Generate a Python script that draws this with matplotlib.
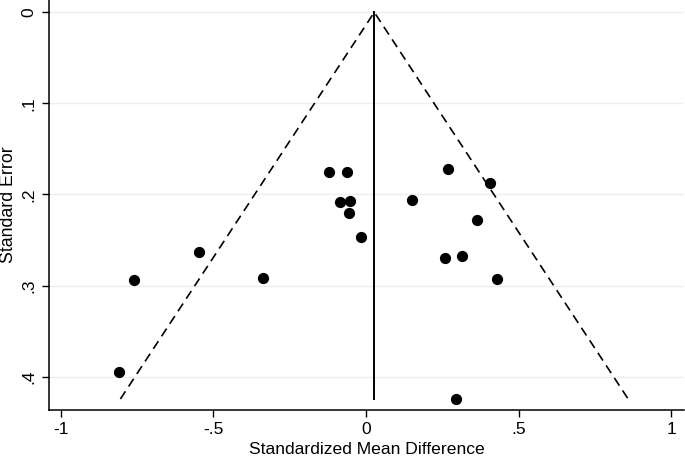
import numpy as np
import matplotlib
matplotlib.use("Agg")
import matplotlib.pyplot as plt

plt.rcParams['font.family'] = ['Liberation Sans', 'DejaVu Sans']

# study estimates (standardized mean difference) and their standard errors
smd = [-0.121, -0.062, 0.269, 0.406, -0.084, -0.052, -0.056, 0.152, 0.364,
       -0.016, -0.338, 0.258, 0.316, 0.428, 0.294, -0.549, -0.760, -0.808]
se = [0.1753, 0.1753, 0.1720, 0.1870, 0.2080, 0.2075, 0.2206, 0.2064, 0.2283,
      0.2467, 0.2913, 0.2697, 0.2671, 0.2930, 0.4245, 0.2635, 0.2935, 0.3945]

# pooled estimate
pooled = 0.027

xticks = [-1, -0.5, 0, 0.5, 1]
xticklabels = ['-1', '-.5', '0', '.5', '1']
yticks = [0, 0.1, 0.2, 0.3, 0.4]
yticklabels = ['0', '.1', '.2', '.3', '.4']

fig = plt.figure(figsize=(6.85, 4.58), dpi=100)
ax = fig.add_axes([49/685, 1 - 410/458, 635/685, 410/458])

ax.grid(axis='y', color='#e8f0f1', linewidth=1.0)
ax.set_axisbelow(True)

se_max = max(se)
ax.plot([pooled, pooled], [0, se_max], color='black', linewidth=1.4)
ax.plot([pooled - 1.96*se_max, pooled, pooled + 1.96*se_max], [se_max, 0, se_max],
        color='black', linewidth=1.2, linestyle=(0, (5.5, 3.5)))

ax.scatter(smd, se, s=50, color='black', zorder=3)

ax.set_xlim(-1.039, 1.042)
ax.set_ylim(0.4366, -0.0135)

ax.set_xticks(xticks)
ax.set_xticklabels(xticklabels)
ax.set_yticks(yticks)
ax.set_yticklabels(yticklabels, rotation=90, va='center')

ax.tick_params(axis='both', direction='out', length=5, width=1, labelsize=12.5, pad=4)
for s in ['top', 'right']:
    ax.spines[s].set_visible(False)
for s in ['left', 'bottom']:
    ax.spines[s].set_linewidth(1.1)

ax.set_xlabel('Standardized Mean Difference', fontsize=12.6, labelpad=3)
ax.set_ylabel('Standard Error', fontsize=12.8, labelpad=3)

fig.savefig('out.png', dpi=100)
